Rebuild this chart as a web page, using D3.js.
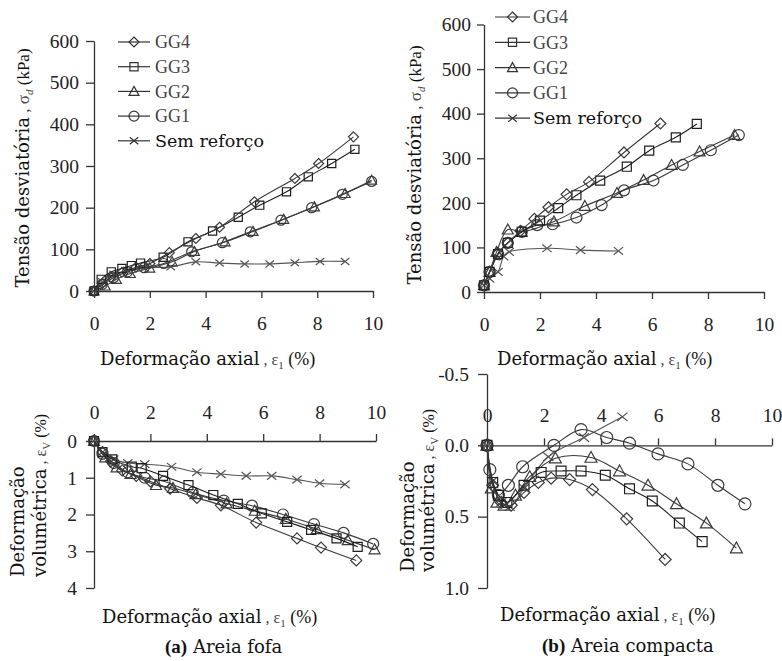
<!DOCTYPE html>
<html>
<head>
<meta charset="utf-8">
<script src="https://cdn.jsdelivr.net/npm/d3@7"></script>
<style>
  body { margin: 0; background: #fff; }
  svg { display: block; }
</style>
</head>
<body>
<svg id="fig" width="782" height="661"></svg>
<script>
// ---- data -------------------------------------------------------------
const seriesNames = ["GG4", "GG3", "GG2", "GG1", "Sem reforço"];

const strainTicks = [0, 2, 4, 6, 8, 10];
const stressTicks = [0, 100, 200, 300, 400, 500, 600];
const volTicksFofa = [0, 1, 2, 3, 4];
const volTicksCompacta = [-0.5, 0, 0.5, 1.0];

// (a) Areia fofa — deviator stress [axial strain %, kPa]
const fofaTensaoGG4 = [[0,0],[0.3,18],[0.6,32],[1.0,45],[1.5,57],[2.0,66],[2.7,92],[3.65,126],[4.5,153],[5.75,214],[7.2,270],[8.05,306],[9.3,370]];
const fofaTensaoGG3 = [[0,0],[0.26,28],[0.62,46],[1.0,54],[1.34,61],[1.67,67],[2.48,81],[3.37,118],[4.25,144],[5.17,177],[5.94,206],[6.9,238],[7.68,274],[8.52,306],[9.35,340]];
const fofaTensaoGG2 = [[0,0],[0.4,12],[0.8,28],[1.3,42],[2.0,55],[2.8,70],[3.6,95],[4.7,118],[5.7,143],[6.8,172],[7.9,202],[9.0,234],[9.95,266]];
const fofaTensaoGG1 = [[0,0],[0.3,16],[0.7,32],[1.2,46],[1.8,56],[2.5,66],[3.5,94],[4.6,116],[5.6,142],[6.7,170],[7.8,200],[8.9,232],[9.95,263]];
const fofaTensaoSem = [[0,0],[0.3,22],[0.7,40],[1.2,50],[1.8,56],[2.75,58],[3.65,70],[4.5,67],[5.4,65],[6.3,65],[7.2,68],[8.1,71],[9.0,71]];

// (b) Areia compacta — deviator stress [axial strain %, kPa]
const compTensaoGG4 = [[0,15],[0.2,45],[0.5,87],[0.85,110],[1.3,137],[1.8,164],[2.3,190],[2.95,219],[3.75,247],[5.0,313],[6.3,378]];
const compTensaoGG3 = [[0,15],[0.2,45],[0.5,85],[0.85,110],[1.35,135],[2.0,160],[2.65,188],[3.3,217],[4.15,250],[5.1,281],[5.9,317],[6.85,347],[7.6,377]];
const compTensaoGG2 = [[0,15],[0.2,45],[0.45,90],[0.85,140],[1.35,135],[2.5,158],[3.6,193],[4.75,222],[5.7,251],[6.7,285],[7.7,315],[8.95,352]];
const compTensaoGG1 = [[0,15],[0.2,45],[0.5,85],[0.85,110],[1.35,135],[1.9,150],[2.45,152],[3.3,167],[4.2,195],[5.0,228],[6.05,250],[7.1,285],[8.1,318],[9.1,352]];
const compTensaoSem = [[0,15],[0.2,30],[0.5,45],[0.7,80],[0.9,90],[2.25,98],[3.45,94],[4.8,92]];

// (a) Areia fofa — volumetric strain [axial strain %, %]
const fofaVolGG4 = [[0,0],[0.3,0.3],[0.6,0.55],[1.0,0.8],[1.5,0.95],[2.0,1.1],[2.7,1.3],[3.65,1.55],[4.5,1.75],[5.75,2.22],[7.2,2.65],[8.05,2.9],[9.3,3.25]];
const fofaVolGG3 = [[0,0],[0.3,0.3],[0.65,0.5],[1.34,0.7],[1.69,0.74],[2.45,0.95],[3.35,1.2],[4.23,1.47],[5.1,1.71],[5.95,1.97],[6.85,2.2],[7.7,2.42],[8.6,2.65],[9.35,2.88]];
const fofaVolGG2 = [[0,0],[0.4,0.45],[0.8,0.72],[1.3,0.9],[2.2,1.2],[2.8,1.28],[3.6,1.45],[4.7,1.7],[5.7,1.9],[6.8,2.12],[7.9,2.4],[9.0,2.7],[9.95,2.95]];
const fofaVolGG1 = [[0,0],[0.3,0.35],[0.7,0.6],[1.2,0.85],[1.8,1.0],[2.5,1.1],[3.5,1.4],[4.6,1.62],[5.6,1.76],[6.7,2.0],[7.8,2.26],[8.85,2.5],[9.9,2.8]];
const fofaVolSem = [[0,0],[0.3,0.3],[0.7,0.5],[1.2,0.6],[1.8,0.63],[2.75,0.7],[3.65,0.85],[4.5,0.9],[5.4,0.95],[6.3,0.95],[7.2,1.05],[8.0,1.15],[8.9,1.18]];

// (b) Areia compacta — volumetric strain [axial strain %, %]
const compVolGG4 = [[0,0],[0.2,0.28],[0.5,0.4],[0.85,0.42],[1.3,0.33],[1.8,0.26],[2.25,0.23],[2.9,0.24],[3.7,0.31],[4.9,0.515],[6.25,0.8]];
const compVolGG3 = [[0,0],[0.2,0.26],[0.4,0.35],[0.7,0.4],[1.3,0.28],[1.9,0.19],[2.6,0.18],[3.3,0.18],[4.15,0.21],[5.0,0.305],[5.8,0.39],[6.75,0.545],[7.55,0.675]];
const compVolGG2 = [[0,0],[0.15,0.3],[0.35,0.4],[0.6,0.42],[1.0,0.35],[1.5,0.22],[2.4,0.09],[3.65,0.085],[4.65,0.18],[5.65,0.28],[6.65,0.41],[7.7,0.545],[8.75,0.72]];
const compVolGG1 = [[0,0],[0.1,0.17],[0.4,0.35],[0.75,0.28],[1.25,0.15],[2.35,0.0],[3.3,-0.11],[4.2,-0.055],[5.0,-0.015],[6.0,0.06],[7.05,0.13],[8.1,0.28],[9.05,0.41]];
const compVolSem = [[0,0],[0.2,0.25],[0.5,0.4],[0.8,0.43],[1.3,0.3],[2.15,0.08],[3.4,-0.055],[4.75,-0.2]];

// ---- drawing ----------------------------------------------------------
const svg = d3.select("#fig");
const SLAB = "'DejaVu Serif', serif";
const TIMES = "'Liberation Serif', 'Times New Roman', serif";
const markerTypes = ["diamond", "square", "triangle", "circle", "cross"];

function markerPath(type, s) {
  switch (type) {
    case "diamond": return `M0,${-s}L${s},0L0,${s}L${-s},0Z`;
    case "square": { const h = s * 0.82; return `M${-h},${-h}H${h}V${h}H${-h}Z`; }
    case "triangle": return `M0,${-s}L${s},${s * 0.8}L${-s},${s * 0.8}Z`;
    case "circle": return d3.symbol(d3.symbolCircle, Math.PI * s * s)();
    case "cross": return `M${-s * 0.85},${-s * 0.7}L${s * 0.85},${s * 0.7}M${-s * 0.85},${s * 0.7}L${s * 0.85},${-s * 0.7}`;
  }
}

function styleAxis(g) {
  g.select(".domain").attr("stroke", "#333").attr("stroke-width", 1.3);
  g.selectAll(".tick line").attr("stroke", "#333").attr("stroke-width", 1.3);
  g.selectAll(".tick text").attr("font-family", TIMES).attr("font-size", 19.5).attr("fill", "#222");
}

function drawPanel(p) {
  const xs = d3.scaleLinear([0, 10], p.xRange);
  const ys = d3.scaleLinear(p.yDomain, p.yRange);
  const g = svg.append("g");

  // y axis
  g.append("g")
    .attr("transform", `translate(${p.xRange[0]},0)`)
    .call(d3.axisLeft(ys).tickValues(p.yTicks).tickSize(p.yTickSize).tickSizeOuter(0)
      .tickPadding(p.yPad).tickFormat(p.yFormat))
    .call(styleAxis);

  // x axis
  const xAxisY = p.xAxisAtValue !== undefined ? ys(p.xAxisAtValue) : p.yRange[0];
  const xAxis = (p.xTop ? d3.axisTop(xs) : d3.axisBottom(xs))
    .tickValues(strainTicks).tickSize(7).tickSizeOuter(0).tickPadding(p.xPad).tickFormat(d3.format("d"));
  g.append("g").attr("transform", `translate(0,${xAxisY})`).call(xAxis).call(styleAxis);

  const line = d3.line().x(d => xs(d[0])).y(d => ys(d[1])).curve(d3.curveCatmullRom.alpha(0.5));

  // series drawn from last (unreinforced) to first so GG4 sits on top
  for (let i = p.series.length - 1; i >= 0; i--) {
    const data = p.series[i];
    const col = i === 1 ? "#1e1e1e" : (i === 4 ? "#555" : "#3a3a3a");
    g.append("path").datum(data).attr("d", line)
      .attr("fill", "none").attr("stroke", col).attr("stroke-width", 1.1);
    g.append("g").selectAll("path").data(data).join("path")
      .attr("transform", d => `translate(${xs(d[0])},${ys(d[1])})`)
      .attr("d", markerPath(markerTypes[i], p.ms))
      .attr("fill", "none").attr("stroke", col).attr("stroke-width", 1.2);
  }

  if (p.legend) {
    const L = p.legend;
    seriesNames.forEach((name, i) => {
      const y = L.y0 + i * L.dy;
      const lg = svg.append("g");
      lg.append("line").attr("x1", L.x1).attr("x2", L.x2).attr("y1", y).attr("y2", y)
        .attr("stroke", "#333").attr("stroke-width", 1.2);
      lg.append("path").attr("transform", `translate(${(L.x1 + L.x2) / 2},${y})`)
        .attr("d", markerPath(markerTypes[i], 5)).attr("fill", "none").attr("stroke", "#333").attr("stroke-width", 1.2);
      lg.append("text").attr("x", L.tx).attr("y", y).attr("dy", "0.35em")
        .attr("font-family", i === 4 ? SLAB : TIMES).attr("font-size", i === 4 ? 17.5 : 18)
        .attr("fill", i === 4 ? "#111" : "#444").text(name);
    });
  }
}

// Axial strain title: "Deformação axial , ε1 (%)"
function strainTitle(x, y) {
  const t = svg.append("text").attr("x", x).attr("y", y).attr("fill", "#111");
  t.append("tspan").attr("font-family", SLAB).attr("font-size", 18).text("Deformação axial");
  t.append("tspan").attr("font-family", TIMES).attr("font-size", 16).attr("fill", "#444").text(" , ε");
  t.append("tspan").attr("font-family", TIMES).attr("font-size", 11).attr("dy", 4).attr("fill", "#444").text("1");
  t.append("tspan").attr("font-family", TIMES).attr("font-size", 18).attr("dy", -4).text(" (%)");
}

function stressTitle(cx, cy) {
  const t = svg.append("text").attr("transform", `translate(${cx},${cy}) rotate(-90)`)
    .attr("text-anchor", "middle").attr("fill", "#111");
  t.append("tspan").attr("font-family", SLAB).attr("font-size", 18).text("Tensão desviatória");
  t.append("tspan").attr("font-family", TIMES).attr("font-size", 17).attr("fill", "#444").text(" , σ");
  t.append("tspan").attr("font-family", TIMES).attr("font-style", "italic").attr("font-size", 11).attr("dy", 4).attr("fill", "#444").text("d");
  t.append("tspan").attr("font-family", TIMES).attr("font-size", 17).attr("dy", -4).text(" (kPa)");
}

function volTitle(x1, x2, y) {
  svg.append("text").attr("transform", `translate(${x1},${y}) rotate(-90)`)
    .attr("font-family", SLAB).attr("font-size", 18).attr("fill", "#111").text("Deformação");
  const t = svg.append("text").attr("transform", `translate(${x2},${y}) rotate(-90)`).attr("fill", "#111");
  t.append("tspan").attr("font-family", SLAB).attr("font-size", 18).text("volumétrica");
  t.append("tspan").attr("font-family", TIMES).attr("font-size", 16).attr("fill", "#444").text(" , ε");
  t.append("tspan").attr("font-family", TIMES).attr("font-size", 11).attr("dy", 4).attr("fill", "#444").text("V");
  t.append("tspan").attr("font-family", TIMES).attr("font-size", 16).attr("dy", -4).text(" (%)");
}

function caption(x, y, tag, label) {
  const t = svg.append("text").attr("x", x).attr("y", y).attr("fill", "#111");
  t.append("tspan").attr("font-family", TIMES).attr("font-weight", "bold").attr("font-size", 19).text(tag);
  t.append("tspan").attr("font-family", SLAB).attr("font-size", 18).text(" " + label);
}

drawPanel({
  series: [fofaTensaoGG4, fofaTensaoGG3, fofaTensaoGG2, fofaTensaoGG1, fofaTensaoSem],
  xRange: [94, 373], yRange: [291, 41], yDomain: [0, 600], yTicks: stressTicks,
  yTickSize: 8, yPad: 7, yFormat: d3.format("d"), xPad: 18, ms: 5,
  legend: { x1: 118, x2: 150, tx: 155, y0: 42, dy: 24.7 }
});
drawPanel({
  series: [compTensaoGG4, compTensaoGG3, compTensaoGG2, compTensaoGG1, compTensaoSem],
  xRange: [484, 764], yRange: [292, 24.5], yDomain: [0, 600], yTicks: stressTicks,
  yTickSize: 7, yPad: 6, yFormat: d3.format("d"), xPad: 18, ms: 5.5,
  legend: { x1: 495, x2: 530, tx: 533, y0: 17, dy: 25.3 }
});
drawPanel({
  series: [fofaVolGG4, fofaVolGG3, fofaVolGG2, fofaVolGG1, fofaVolSem],
  xRange: [94, 376], yRange: [441, 588], yDomain: [0, 4], yTicks: volTicksFofa,
  yTickSize: 8, yPad: 9, yFormat: d3.format("d"), xTop: true, xPad: 15, ms: 5.5
});
drawPanel({
  series: [compVolGG4, compVolGG3, compVolGG2, compVolGG1, compVolSem],
  xRange: [487, 772], yRange: [374, 588], yDomain: [-0.5, 1.0], yTicks: volTicksCompacta,
  yTickSize: 9, yPad: 9, yFormat: d => d.toFixed(1), xTop: true, xAxisAtValue: 0, xPad: 16, ms: 6
});

strainTitle(100, 365);
strainTitle(497, 365);
strainTitle(102, 623);
strainTitle(500, 621);
stressTitle(29, 168);
stressTitle(421, 165);
volTitle(24, 46, 577);
volTitle(414, 434, 572);
caption(165, 653, "(a)", "Areia fofa");
caption(542, 652, "(b)", "Areia compacta");
</script>
</body>
</html>
